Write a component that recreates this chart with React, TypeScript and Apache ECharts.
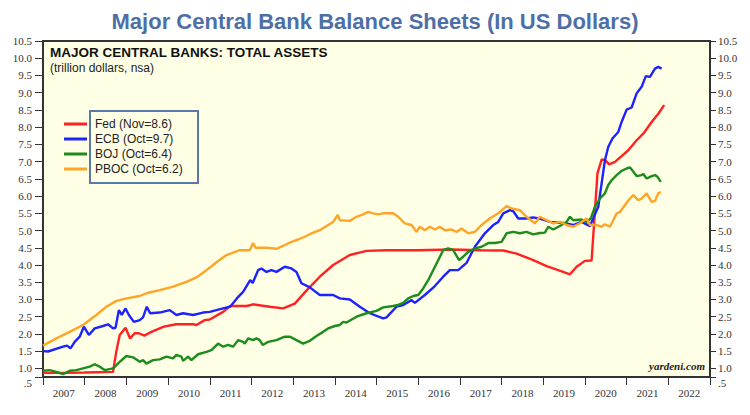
import React, { useEffect, useRef } from "react";
import * as echarts from "echarts";

const yearLabels = ["2007","2008","2009","2010","2011","2012","2013","2014","2015","2016","2017","2018","2019","2020","2021","2022"];
const yBottom = 0.75;
const yTickValues = [yBottom, 1.0, 1.5, 2.0, 2.5, 3.0, 3.5, 4.0, 4.5, 5.0, 5.5, 6.0, 6.5, 7.0, 7.5, 8.0, 8.5, 9.0, 9.5, 10.0, 10.5];
const yLabelValues = yTickValues.slice(1);
const yBottomLabel = ".5";
const seriesNames = ["Fed (Nov=8.6)", "ECB (Oct=9.7)", "BOJ (Oct=6.4)", "PBOC (Oct=6.2)"];
const seriesColors = ["#FF2222", "#1E22FF", "#1C8C1C", "#FFA526"];

const fedData = [[2007.0,0.87],[2007.5,0.87],[2008.0,0.88],[2008.68,0.90],[2008.76,1.5],[2008.84,1.97],[2008.98,2.18],[2009.09,1.87],[2009.2,2.02],[2009.3,2.02],[2009.43,1.95],[2009.6,2.06],[2009.9,2.21],[2010.2,2.28],[2010.6,2.28],[2010.68,2.26],[2010.88,2.40],[2011.0,2.42],[2011.32,2.64],[2011.49,2.81],[2011.89,2.81],[2012.04,2.86],[2012.44,2.79],[2012.76,2.74],[2013.04,2.88],[2013.33,3.27],[2013.64,3.66],[2013.96,4.0],[2014.36,4.29],[2014.76,4.41],[2015.24,4.43],[2016.0,4.43],[2016.8,4.45],[2017.5,4.43],[2018.04,4.42],[2018.36,4.33],[2018.76,4.14],[2019.08,3.97],[2019.36,3.85],[2019.64,3.73],[2019.8,3.95],[2020.0,4.12],[2020.16,4.13],[2020.3,6.66],[2020.4,7.06],[2020.48,7.05],[2020.58,6.92],[2020.72,6.99],[2020.88,7.16],[2021.04,7.33],[2021.24,7.62],[2021.4,7.81],[2021.6,8.15],[2021.76,8.39],[2021.9,8.64]];

const ecbData = [[2007.0,1.50],[2007.12,1.49],[2007.48,1.63],[2007.58,1.66],[2007.66,1.58],[2007.76,1.77],[2007.88,1.92],[2007.98,2.21],[2008.1,1.97],[2008.24,2.16],[2008.44,2.23],[2008.56,2.28],[2008.68,2.16],[2008.74,2.18],[2008.82,2.69],[2008.89,2.55],[2008.98,2.74],[2009.06,2.55],[2009.18,2.35],[2009.32,2.40],[2009.40,2.48],[2009.49,2.79],[2009.57,2.60],[2009.8,2.62],[2010.04,2.69],[2010.2,2.55],[2010.36,2.60],[2010.6,2.55],[2010.84,2.62],[2011.0,2.64],[2011.32,2.74],[2011.49,2.79],[2011.65,3.03],[2011.8,3.22],[2011.97,3.56],[2012.03,3.48],[2012.16,3.85],[2012.24,3.90],[2012.36,3.80],[2012.48,3.85],[2012.6,3.80],[2012.8,3.95],[2012.96,3.90],[2013.08,3.80],[2013.2,3.47],[2013.4,3.35],[2013.64,3.13],[2013.96,3.13],[2014.12,3.03],[2014.36,3.0],[2014.6,2.79],[2014.84,2.60],[2015.16,2.45],[2015.24,2.48],[2015.48,2.79],[2015.64,2.84],[2015.84,2.98],[2015.92,2.90],[2016.16,3.13],[2016.4,3.39],[2016.6,3.66],[2016.76,3.85],[2016.96,3.85],[2017.16,4.06],[2017.36,4.53],[2017.6,4.92],[2017.8,5.16],[2017.92,5.25],[2018.04,5.5],[2018.2,5.59],[2018.28,5.56],[2018.4,5.35],[2018.6,5.35],[2018.76,5.38],[2019.0,5.32],[2019.16,5.25],[2019.48,5.22],[2019.72,5.16],[2019.92,5.25],[2020.12,5.13],[2020.32,5.69],[2020.4,6.37],[2020.48,7.04],[2020.56,7.43],[2020.66,7.67],[2020.8,7.86],[2020.88,8.15],[2021.0,8.51],[2021.12,8.57],[2021.24,8.98],[2021.36,9.17],[2021.46,9.48],[2021.56,9.46],[2021.68,9.70],[2021.76,9.75],[2021.84,9.70]];

const bojData = [[2007.0,0.93],[2007.16,0.95],[2007.32,0.90],[2007.48,0.83],[2007.64,0.93],[2007.8,0.95],[2007.96,1.0],[2008.12,1.05],[2008.24,1.12],[2008.36,1.05],[2008.48,0.95],[2008.68,1.0],[2008.84,1.19],[2009.0,1.36],[2009.16,1.32],[2009.32,1.19],[2009.4,1.24],[2009.48,1.14],[2009.64,1.24],[2009.8,1.26],[2009.96,1.34],[2010.12,1.29],[2010.2,1.39],[2010.32,1.34],[2010.36,1.22],[2010.48,1.34],[2010.56,1.24],[2010.72,1.41],[2010.92,1.48],[2011.04,1.53],[2011.2,1.72],[2011.32,1.63],[2011.44,1.68],[2011.56,1.63],[2011.68,1.82],[2011.8,1.77],[2011.84,1.72],[2011.92,1.87],[2012.04,1.82],[2012.12,1.87],[2012.2,1.82],[2012.27,1.68],[2012.4,1.77],[2012.6,1.82],[2012.8,1.92],[2012.92,1.92],[2013.08,1.82],[2013.24,1.72],[2013.4,1.80],[2013.56,1.94],[2013.72,2.06],[2013.84,2.16],[2014.0,2.23],[2014.12,2.26],[2014.2,2.35],[2014.28,2.33],[2014.52,2.50],[2014.76,2.60],[2015.0,2.67],[2015.16,2.77],[2015.4,2.81],[2015.52,2.84],[2015.64,2.90],[2015.76,3.03],[2015.88,3.10],[2016.0,3.13],[2016.12,3.32],[2016.24,3.56],[2016.36,3.85],[2016.48,4.14],[2016.6,4.43],[2016.72,4.48],[2016.84,4.43],[2016.98,4.14],[2017.08,4.24],[2017.2,4.38],[2017.36,4.48],[2017.52,4.53],[2017.6,4.58],[2017.68,4.64],[2017.84,4.64],[2018.0,4.67],[2018.12,4.92],[2018.28,4.96],[2018.44,4.92],[2018.6,4.96],[2018.76,4.89],[2018.92,4.93],[2019.04,4.94],[2019.12,5.11],[2019.24,5.03],[2019.44,5.16],[2019.56,5.25],[2019.64,5.40],[2019.72,5.30],[2019.92,5.32],[2020.04,5.25],[2020.14,5.35],[2020.24,5.69],[2020.36,5.93],[2020.48,6.08],[2020.56,6.32],[2020.64,6.46],[2020.76,6.61],[2020.88,6.73],[2021.0,6.80],[2021.08,6.83],[2021.16,6.71],[2021.24,6.58],[2021.36,6.61],[2021.4,6.64],[2021.48,6.51],[2021.6,6.58],[2021.68,6.61],[2021.74,6.56],[2021.82,6.41]];

const pbocData = [[2007.0,1.66],[2007.32,1.87],[2007.64,2.06],[2007.96,2.26],[2008.28,2.55],[2008.52,2.79],[2008.76,2.96],[2009.0,3.03],[2009.32,3.10],[2009.48,3.18],[2009.8,3.27],[2010.12,3.37],[2010.44,3.51],[2010.68,3.64],[2010.92,3.85],[2011.08,4.0],[2011.16,4.08],[2011.4,4.29],[2011.72,4.43],[2011.96,4.43],[2012.04,4.64],[2012.1,4.50],[2012.36,4.50],[2012.6,4.47],[2012.8,4.58],[2012.96,4.67],[2013.12,4.74],[2013.28,4.82],[2013.44,4.92],[2013.64,5.01],[2013.84,5.16],[2013.96,5.25],[2014.07,5.45],[2014.12,5.30],[2014.36,5.28],[2014.52,5.40],[2014.68,5.47],[2014.8,5.54],[2014.92,5.50],[2015.04,5.47],[2015.16,5.50],[2015.4,5.50],[2015.52,5.40],[2015.68,5.21],[2015.84,5.16],[2015.96,4.96],[2016.04,5.11],[2016.16,5.01],[2016.28,5.11],[2016.4,5.03],[2016.52,5.11],[2016.64,5.01],[2016.8,5.03],[2016.92,4.96],[2017.04,5.06],[2017.2,4.92],[2017.36,4.96],[2017.52,5.16],[2017.72,5.35],[2017.92,5.50],[2018.12,5.71],[2018.24,5.64],[2018.44,5.59],[2018.6,5.40],[2018.8,5.21],[2018.92,5.40],[2019.08,5.30],[2019.24,5.21],[2019.4,5.25],[2019.56,5.16],[2019.72,5.11],[2019.88,5.21],[2020.04,5.35],[2020.12,5.16],[2020.28,5.16],[2020.4,5.11],[2020.48,5.18],[2020.6,5.11],[2020.68,5.30],[2020.76,5.50],[2020.84,5.54],[2020.96,5.74],[2021.08,5.93],[2021.16,6.03],[2021.28,5.88],[2021.36,5.93],[2021.48,6.08],[2021.6,5.83],[2021.68,5.86],[2021.76,6.08],[2021.82,6.12]];

const allData = [fedData, ecbData, bojData, pbocData];

export default function App() {
  const ref = useRef<HTMLDivElement>(null);
  useEffect(() => {
    if (!ref.current) return;
    const chart = echarts.init(ref.current, null, { renderer: "svg" });
    const serif = "'Liberation Serif', 'Times New Roman', serif";
    const sans = "'Liberation Sans', Arial, sans-serif";
    const labelStyle = { fontFamily: serif, fontSize: 11, color: "#333" };
    const yAxisMain = (pos: "left" | "right", tickLen: number, margin: number) => ({
      type: "value",
      position: pos,
      min: yBottom,
      max: 10.5,
      axisLine: { show: false },
      splitLine: { show: false },
      axisTick: { show: true, length: tickLen, customValues: yTickValues, lineStyle: { color: "#333", width: 1 } },
      axisLabel: {
        show: true,
        customValues: yLabelValues,
        showMinLabel: true,
        showMaxLabel: true,
        formatter: (v: number) => v.toFixed(1),
        ...labelStyle,
        margin,
      },
    });
    const yAxisBottomLabel = (pos: "left" | "right", margin: number) => ({
      type: "value",
      position: pos,
      offset: 0,
      min: yBottom,
      max: 10.5,
      axisLine: { show: false },
      splitLine: { show: false },
      axisTick: { show: false },
      axisLabel: {
        show: true,
        customValues: [yBottom],
        showMinLabel: true,
        formatter: () => yBottomLabel,
        ...labelStyle,
        verticalAlign: "top",
        lineHeight: 11,
        margin,
      },
    });
    chart.setOption({
      animation: false,
      backgroundColor: "#ffffff",
      title: [
        {
          text: "Major Central Bank Balance Sheets (In US Dollars)",
          left: "center",
          top: 5,
          textStyle: { fontFamily: "'Liberation Sans Narrow', 'Arial Narrow', " + sans, fontSize: 22, fontWeight: "bold", color: "#4E6FA6" },
        },
        {
          text: "MAJOR CENTRAL BANKS: TOTAL ASSETS",
          subtext: "(trillion dollars, nsa)",
          left: 50,
          top: 45,
          padding: 0,
          itemGap: 3,
          textStyle: { fontFamily: sans, fontSize: 13.5, fontWeight: "bold", color: "#111" },
          subtextStyle: { fontFamily: sans, fontSize: 12, color: "#222" },
        },
      ],
      legend: {
        left: 64,
        top: 117,
        orient: "vertical",
        icon: "rect",
        itemWidth: 23,
        itemHeight: 3,
        itemGap: 1,
        padding: 0,
        textStyle: { fontFamily: sans, fontSize: 12, color: "#222", padding: [0, 0, 0, 3], lineHeight: 14 },
        data: seriesNames,
        z: 5,
      },
      graphic: [
        {
          type: "rect",
          z: 4,
          shape: { x: 90, y: 111, width: 108, height: 72 },
          style: { fill: "#FFFFE6", stroke: "#5A78AA", lineWidth: 2 },
        },
        {
          type: "text",
          z: 4,
          x: 705,
          y: 366,
          style: {
            text: "yardeni.com",
            font: "italic bold 11px 'Liberation Serif', serif",
            fill: "#222",
            textAlign: "right",
            textVerticalAlign: "middle",
          },
        },
      ],
      grid: {
        left: 43,
        top: 41,
        width: 667,
        height: 336,
        show: true,
        backgroundColor: "#FFFFE6",
        borderColor: "#333",
        borderWidth: 2,
      },
      xAxis: [
        {
          type: "value",
          min: 2007,
          max: 2023,
          interval: 1,
          position: "bottom",
          axisLine: { show: false },
          splitLine: { show: false },
          axisTick: { show: true, length: 8, lineStyle: { color: "#333", width: 1 } },
          axisLabel: { show: false },
        },
        {
          type: "category",
          data: yearLabels,
          position: "bottom",
          boundaryGap: true,
          axisLine: { show: false },
          axisTick: { show: false },
          axisLabel: { ...labelStyle, margin: 10, interval: 0 },
        },
      ],
      yAxis: [
        yAxisMain("left", 8, 11),
        yAxisMain("right", 6, 8),
        yAxisBottomLabel("left", 11),
        yAxisBottomLabel("right", 8),
      ],
      series: allData.map((d, i) => ({
        name: seriesNames[i],
        type: "line",
        xAxisIndex: 0,
        yAxisIndex: 0,
        data: d,
        symbol: "none",
        color: seriesColors[i],
        lineStyle: { color: seriesColors[i], width: 2.4 },
      })),
    });
    return () => chart.dispose();
  }, []);
  return <div ref={ref} style={{ position: "fixed", left: 0, top: 0, width: 750, height: 415 }} />;
}
